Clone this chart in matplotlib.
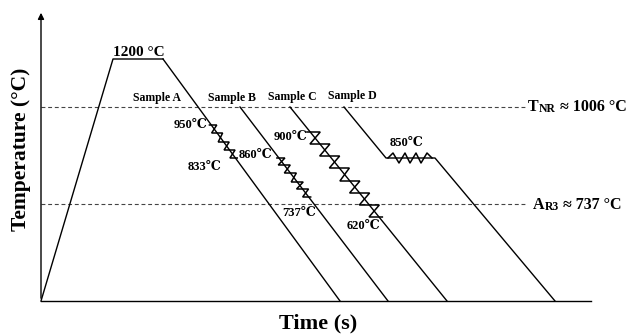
import numpy as np
import matplotlib.pyplot as plt

plt.rcParams['font.family'] = ['Liberation Serif', 'DejaVu Serif', 'DejaVu Sans']
plt.rcParams['font.weight'] = 'bold'

##niveaux de temperature (echelle schematique, pas lineaire)
niv_base = 34
niv_ar3 = 131      # AR3 ~ 737 C
niv_850 = 177
niv_tnr = 228      # TNR ~ 1006 C
niv_1200 = 276
niv_fleche = 325

##temps (unites arbitraires)
t_origine = 41
t_fin_axe = 591
t_fin_tirets = 527

#chauffage puis maintien a 1200 C
chauffe_t = [41, 113, 163]
chauffe_y = [niv_base, niv_1200, niv_1200]

#refroidissement de chaque echantillon
ech_A_t = [163, 340]
ech_A_y = [niv_1200, niv_base]
ech_B_t = [240, 388]
ech_B_y = [niv_tnr, niv_base]
ech_C_t = [290, 447]
ech_C_y = [niv_tnr, niv_base]
ech_D_t = [344, 386, 435, 555]
ech_D_y = [niv_tnr, niv_850, niv_850, niv_base]

#niveaux des passes de laminage pendant le refroidissement
passes_A = [210, 202, 193, 185, 177]
passes_B = [177, 170, 162, 153, 146, 138]
passes_C = [203, 191, 179, 167, 154, 142, 130, 118]
demi_larg_A = 5.5
demi_larg_B = 6
demi_larg_C = 10

#passes de l'echantillon D a temperature constante
dents_D_t = [388, 393, 399, 405, 410, 416, 421, 427, 432]
ampl_D = 5


##fonctions de trace
def t_sur_ligne(t, y, niv) :
    '''temps ou la droite de refroidissement (t[0],y[0])-(t[1],y[1]) passe au niveau niv'''
    return t[0] + (niv - y[0]) * (t[1] - t[0]) / (y[1] - y[0])

def zigzag(ax, t, y, niveaux, demi) :
    '''dessine les "Z" des passes le long d'une droite de refroidissement
    (la premiere passe part de la droite, la derniere y revient)'''
    xs = []
    ys = []
    for niv in niveaux :
        tc = t_sur_ligne(t, y, niv)
        xs += [tc - demi, tc + demi]
        ys += [niv, niv]
    xs[0] = t_sur_ligne(t, y, niveaux[0]) - demi / 3
    xs[-1] = t_sur_ligne(t, y, niveaux[-1]) + demi / 3
    ax.plot(xs, ys, color='k', lw=1.1, solid_joinstyle='miter')


fig = plt.figure(figsize=(6.33, 3.35), dpi=100)
ax = fig.add_axes([0, 0, 1, 1])
ax.set_xlim(0, 633)
ax.set_ylim(0, 335)
ax.axis('off')

#axes avec fleche
ax.annotate('', xy=(t_origine, niv_fleche), xytext=(t_origine, niv_base),
            arrowprops=dict(arrowstyle='-|>', color='k', lw=1.0, mutation_scale=9))
ax.plot([t_origine, t_fin_axe], [niv_base, niv_base], color='k', lw=1.0)

#lignes TNR et AR3
for niv in [niv_tnr, niv_ar3] :
    ax.plot([t_origine, t_fin_tirets], [niv, niv], color='#444444', lw=0.8, ls=(0, (3.5, 2.5)))

#chemins thermiques
ax.plot(chauffe_t, chauffe_y, color='k', lw=1.0)
ax.plot(ech_A_t, ech_A_y, color='k', lw=1.0)
ax.plot(ech_B_t, ech_B_y, color='k', lw=1.0)
ax.plot(ech_C_t, ech_C_y, color='k', lw=1.0)
ax.plot(ech_D_t, ech_D_y, color='k', lw=1.0)

zigzag(ax, ech_A_t, ech_A_y, passes_A, demi_larg_A)
zigzag(ax, ech_B_t, ech_B_y, passes_B, demi_larg_B)
zigzag(ax, ech_C_t, ech_C_y, passes_C, demi_larg_C)

dents_D_y = [niv_850] + [niv_850 + ampl_D * (1 if i % 2 == 0 else -1) for i in range(len(dents_D_t) - 2)] + [niv_850]
ax.plot(dents_D_t, dents_D_y, color='k', lw=1.1)

##textes
ax.text(139, 283, '1200 °C', ha='center', va='center', fontsize=11)
for nom, x, y in [('Sample A', 157, 237), ('Sample B', 232, 237), ('Sample C', 292, 238), ('Sample D', 352, 239)] :
    ax.text(x, y, nom, ha='center', va='center', fontsize=8.5)

ax.text(207, 210, '950℃', ha='right', va='center', fontsize=9)
ax.text(205, 168, '833℃', ha='center', va='center', fontsize=9)
ax.text(239, 180, '860℃', ha='left', va='center', fontsize=9)
ax.text(282, 122, '737℃', ha='left', va='center', fontsize=9)
ax.text(307, 198, '900℃', ha='right', va='center', fontsize=9)
ax.text(347, 109, '620℃', ha='left', va='center', fontsize=9)
ax.text(406, 192, '850℃', ha='center', va='center', fontsize=9)

#T_NR et A_R3 avec indices en petites capitales
def etiquette(x, y, grand, petit, reste) :
    t1 = ax.text(x, y, grand, ha='left', va='baseline', fontsize=11.5)
    t2 = ax.annotate(petit, xy=(1, 0), xycoords=t1, ha='left', va='bottom', fontsize=8.5)
    ax.annotate(reste, xy=(1, 0), xycoords=t2, ha='left', va='bottom', fontsize=11.5)

etiquette(528, 224, 'T', 'NR', ' ≈ 1006 °C')
etiquette(533, 126, 'A', 'R3', ' ≈ 737 °C')

ax.text(318, 12, 'Time (s)', ha='center', va='center', fontsize=16)
ax.text(21, 186, 'Temperature (°C)', ha='center', va='center', rotation=90, fontsize=15.5)

fig.savefig('out.png', dpi=100)
